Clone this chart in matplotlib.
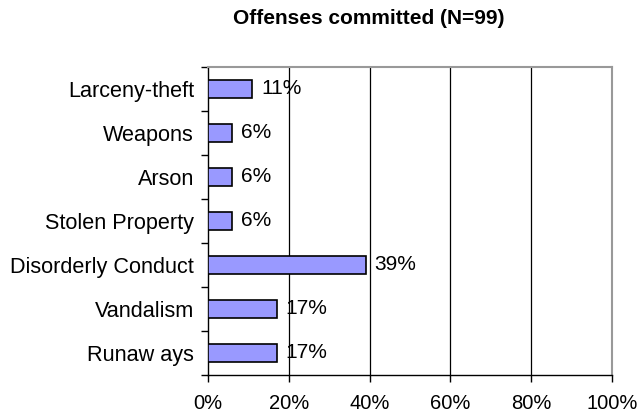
import matplotlib.pyplot as plt
import numpy as np

plt.rcParams['font.family'] = ['Liberation Sans', 'DejaVu Sans']

offenses = ['Larceny-theft', 'Weapons', 'Arson', 'Stolen Property',
            'Disorderly Conduct', 'Vandalism', 'Runaw ays']
percents = [11, 6, 6, 6, 39, 17, 17]
xticks = [0, 20, 40, 60, 80, 100]

fig = plt.figure(figsize=(6.39, 4.17), dpi=100)
ax = fig.add_axes([208/639, 1 - 375/417, 404/639, 308/417])

ypos = np.arange(len(offenses))
bars = ax.barh(ypos, percents, height=0.4, color='#9999ff',
               edgecolor='black', linewidth=1.2, zorder=3)
ax.set_ylim(len(offenses) - 0.5, -0.5)
ax.set_xlim(0, 100)

# category labels sit between boundary ticks
ax.set_yticks(ypos)
ax.set_yticklabels(offenses, fontsize=15.6)
ax.tick_params(axis='y', length=0, pad=10)
ax.set_yticks(np.arange(-0.5, len(offenses)), minor=True)
ax.tick_params(axis='y', which='minor', length=5, width=1)

ax.set_xticks(xticks)
ax.set_xticklabels(['%d%%' % t for t in xticks], fontsize=14.5)
ax.tick_params(axis='x', length=5, width=1, pad=9)

for t in xticks[1:-1]:
    ax.axvline(t, color='black', linewidth=0.9, zorder=1)

for s in ['top', 'right']:
    ax.spines[s].set_color('#999999')
    ax.spines[s].set_linewidth(1.5)
for s in ['left', 'bottom']:
    ax.spines[s].set_color('black')
    ax.spines[s].set_linewidth(1)

for rect, v in zip(bars, percents):
    ax.text(rect.get_width() + 2.2, rect.get_y() + rect.get_height()/2,
            '%d%%' % v, va='center', ha='left', fontsize=15, zorder=4)

fig.text(369/639, 1 - 19/417, 'Offenses committed (N=99)', ha='center',
         va='center', fontsize=15, fontweight='bold')

fig.savefig('out.png', dpi=100)
